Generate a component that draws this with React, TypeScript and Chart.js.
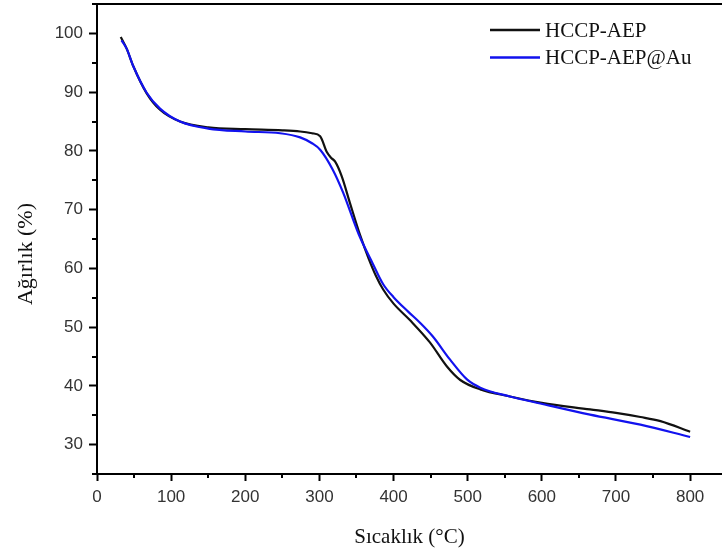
import React, { useEffect, useRef } from 'react';
import { Chart, registerables } from 'chart.js';

Chart.register(...registerables);

const seriesNames = ['HCCP-AEP', 'HCCP-AEP@Au'];
const seriesColors = ['#111111', '#1212ee'];

const aepTemp = [32, 40, 49, 67, 85, 112, 150, 200, 250, 274, 290, 301, 310, 316, 321, 330, 341, 355, 366, 376, 386, 400, 422, 449, 472, 490, 517, 557, 600, 665, 700, 733, 760, 800];
const aepWeight = [99.4, 97.4, 94.4, 89.8, 87.0, 85.0, 84.0, 83.7, 83.5, 83.3, 83.0, 82.5, 79.8, 78.8, 78.2, 75.7, 71.2, 65.6, 61.8, 58.8, 56.4, 54.0, 51.2, 47.4, 43.3, 41.0, 39.4, 38.2, 37.1, 36.0, 35.4, 34.7, 34.0, 32.2];

const auTemp = [33, 40, 49, 67, 85, 112, 150, 200, 247, 274, 290, 301, 318, 332, 353, 372, 386, 400, 420, 436, 453, 476, 499, 517, 557, 598, 665, 733, 800];
const auWeight = [98.8, 97.4, 94.4, 89.9, 87.2, 85.0, 83.8, 83.3, 83.0, 82.3, 81.3, 80.2, 76.8, 72.9, 65.8, 60.8, 57.3, 55.1, 52.6, 50.7, 48.4, 44.5, 41.1, 39.7, 38.2, 37.0, 35.1, 33.4, 31.3];

const xTickValues = [0, 100, 200, 300, 400, 500, 600, 700, 800];
const yTickValues = [30, 40, 50, 60, 70, 80, 90, 100];
const xTitle = 'Sıcaklık (°C)';
const yTitle = 'Ağırlık (%)';

const sansFont = '"Liberation Sans", Arial, sans-serif';
const serifFont = '"Liberation Serif", "Times New Roman", serif';

const framePlugin = {
  id: 'frameMinor',
  afterDraw(chart: any) {
    const { ctx, chartArea, scales } = chart;
    const xs = scales.x;
    const ys = scales.y;
    ctx.save();
    ctx.strokeStyle = '#000';
    ctx.lineWidth = 2;
    ctx.beginPath();
    ctx.moveTo(chartArea.left - 1, chartArea.top);
    ctx.lineTo(chartArea.right, chartArea.top);
    ctx.stroke();
    for (let v = xs.min + 50; v <= xs.max; v += 100) {
      const px = Math.round(xs.getPixelForValue(v));
      ctx.beginPath();
      ctx.moveTo(px, chartArea.bottom);
      ctx.lineTo(px, chartArea.bottom + 4);
      ctx.stroke();
    }
    for (let v = 25; v <= ys.max; v += 10) {
      const py = Math.round(ys.getPixelForValue(v));
      ctx.beginPath();
      ctx.moveTo(chartArea.left, py);
      ctx.lineTo(chartArea.left - 5, py);
      ctx.stroke();
    }
    ctx.save();
    ctx.translate(26, (chartArea.top + chartArea.bottom) / 2 + 15);
    ctx.rotate(-Math.PI / 2);
    ctx.fillStyle = '#111';
    ctx.font = `22px ${serifFont}`;
    ctx.textAlign = 'center';
    ctx.textBaseline = 'middle';
    ctx.fillText(yTitle, 0, 0);
    ctx.restore();
    ctx.restore();
  },
};

const legendPlugin = {
  id: 'customLegend',
  afterDraw(chart: any) {
    const { ctx } = chart;
    ctx.save();
    const rows = [30, 57.5];
    chart.data.datasets.forEach((ds: any, i: number) => {
      const y = rows[i];
      ctx.strokeStyle = ds.borderColor;
      ctx.lineWidth = 2.5;
      ctx.beginPath();
      ctx.moveTo(490, y);
      ctx.lineTo(540, y);
      ctx.stroke();
      ctx.fillStyle = '#111';
      ctx.font = `21px ${serifFont}`;
      ctx.textBaseline = 'middle';
      ctx.textAlign = 'left';
      ctx.fillText(ds.label, 545, y + 1);
    });
    ctx.restore();
  },
};

export default function App() {
  const ref = useRef<HTMLCanvasElement>(null);

  useEffect(() => {
    if (!ref.current) return;
    const chart = new Chart(ref.current, {
      type: 'line',
      data: {
        datasets: [
          {
            label: seriesNames[0],
            data: aepTemp.map((t, i) => ({ x: t, y: aepWeight[i] })),
            borderColor: seriesColors[0],
            backgroundColor: seriesColors[0],
            borderWidth: 2.2,
            pointRadius: 0,
            cubicInterpolationMode: 'monotone',
            fill: false,
            order: 1,
          },
          {
            label: seriesNames[1],
            data: auTemp.map((t, i) => ({ x: t, y: auWeight[i] })),
            borderColor: seriesColors[1],
            backgroundColor: seriesColors[1],
            borderWidth: 2.2,
            pointRadius: 0,
            cubicInterpolationMode: 'monotone',
            fill: false,
            order: 0,
          },
        ],
      },
      options: {
        responsive: false,
        animation: false,
        devicePixelRatio: 1,
        layout: { padding: { top: 4, right: 0, bottom: 0, left: 0 } },
        plugins: {
          legend: { display: false },
          tooltip: { enabled: false },
        },
        scales: {
          x: {
            type: 'linear',
            min: 0,
            max: 843,
            afterBuildTicks: (scale: any) => {
              scale.ticks = xTickValues.map((v) => ({ value: v }));
            },
            afterFit: (scale: any) => {
              scale.height = 80;
              scale.paddingLeft = 0;
              scale.paddingRight = 0;
            },
            grid: {
              display: true,
              drawOnChartArea: false,
              drawTicks: true,
              tickLength: 7,
              tickWidth: 2,
              tickColor: '#000',
            },
            border: { display: true, color: '#000', width: 2 },
            ticks: {
              padding: 6,
              color: '#333',
              font: { family: sansFont, size: 17 },
              maxRotation: 0,
            },
            title: {
              display: true,
              text: xTitle,
              color: '#111',
              font: { family: serifFont, size: 21 },
              padding: { top: 4, bottom: 4 },
            },
          },
          y: {
            type: 'linear',
            min: 25,
            max: 105,
            afterBuildTicks: (scale: any) => {
              scale.ticks = yTickValues.map((v) => ({ value: v }));
            },
            afterFit: (scale: any) => {
              scale.width = 97;
              scale.paddingTop = 0;
              scale.paddingBottom = 0;
            },
            grid: {
              display: true,
              drawOnChartArea: false,
              drawTicks: true,
              tickLength: 8,
              tickWidth: 2,
              tickColor: '#000',
            },
            border: { display: true, color: '#000', width: 2 },
            ticks: {
              padding: 6,
              color: '#333',
              font: { family: sansFont, size: 17 },
            },
            title: { display: false },
          },
        },
      },
      plugins: [framePlugin, legendPlugin],
    } as any);
    return () => chart.destroy();
  }, []);

  return (
    <div style={{ position: 'absolute', left: 0, top: 0, width: 722, height: 554, background: '#fff' }}>
      <canvas ref={ref} width={722} height={554} style={{ display: 'block' }} />
    </div>
  );
}
